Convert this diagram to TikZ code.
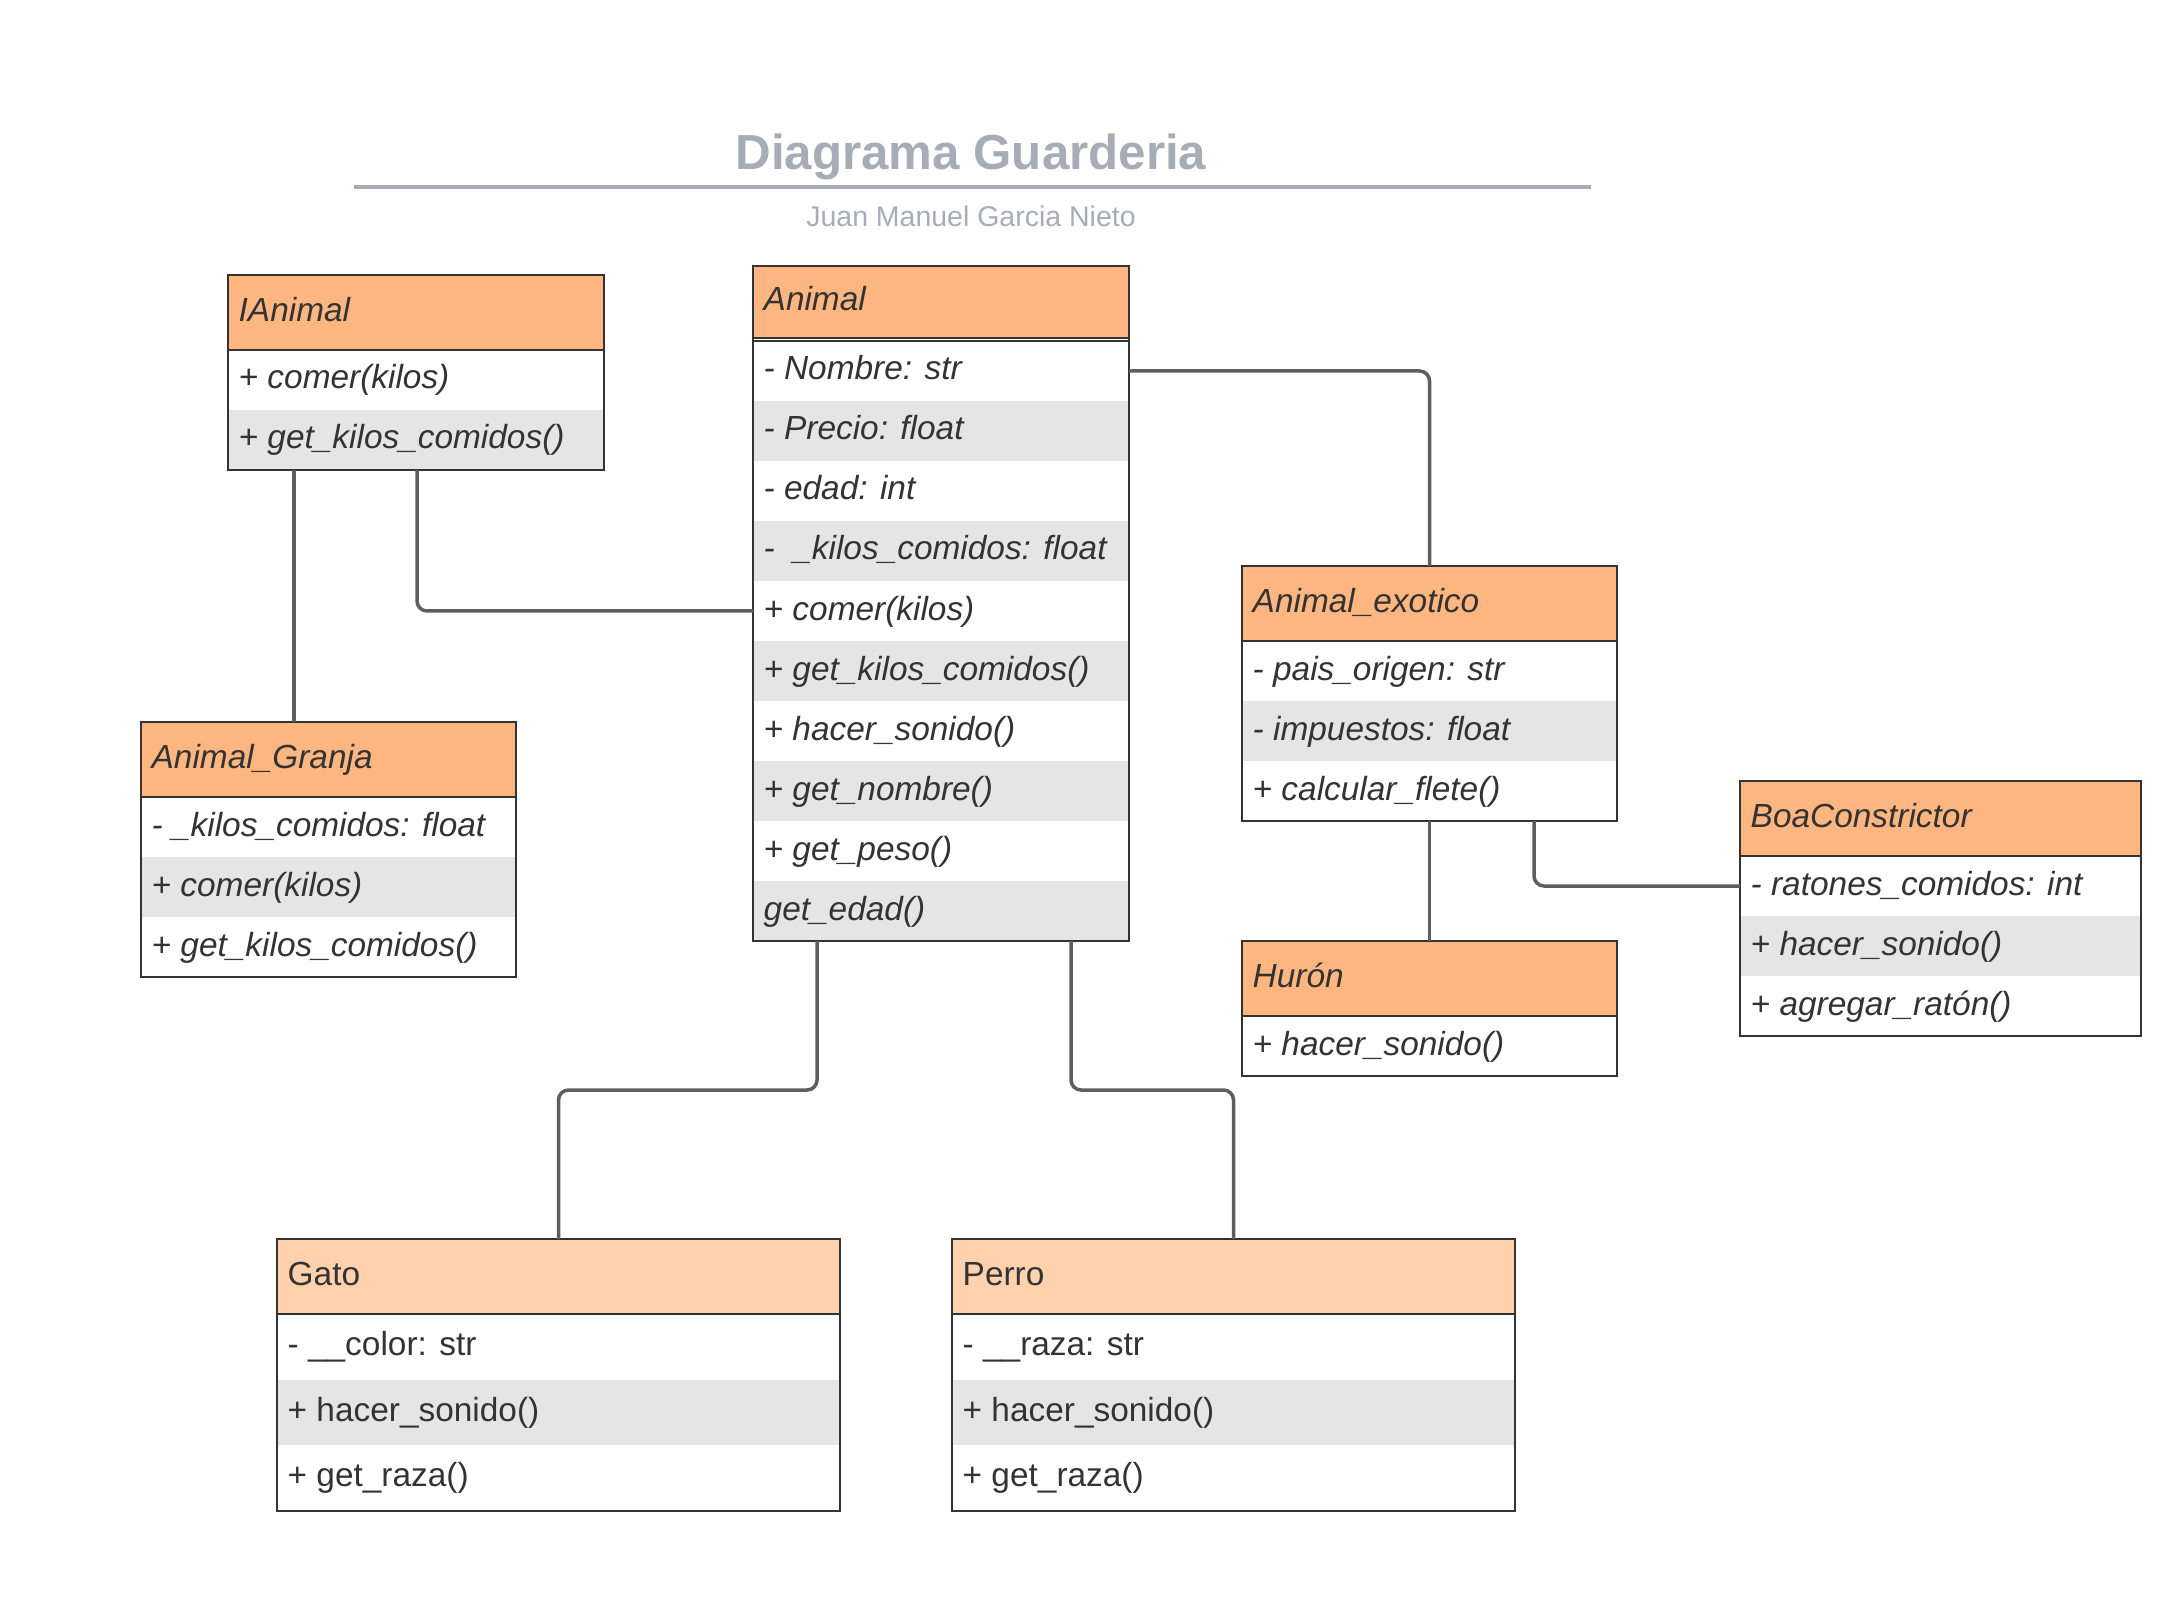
\documentclass[tikz,border=0pt]{standalone}
\usepackage{fontspec}
\setmainfont{Liberation Sans}
\usetikzlibrary{calc}
\definecolor{hdr}{HTML}{FFB680}
\definecolor{hdrlight}{HTML}{FFD1AD}
\definecolor{rowgray}{HTML}{E5E5E5}
\definecolor{edgec}{HTML}{333333}
\definecolor{connc}{HTML}{5E5E5E}
\definecolor{txtc}{HTML}{333333}
\definecolor{ttlc}{HTML}{A7ADB7}
\tikzset{
  rowbox/.style={draw=none, inner sep=0pt, outer sep=0pt, anchor=north west},
  hdrbox/.style={draw=edgec, line width=0.02cm, inner sep=0pt, outer sep=0pt, anchor=north west},
  framebox/.style={draw=edgec, line width=0.02cm, inner sep=0pt, outer sep=0pt, anchor=north west},
  lblit/.style={anchor=base west, inner sep=0pt, text=txtc, font=\fontsize{9.5}{11}\selectfont\itshape},
  lblup/.style={anchor=base west, inner sep=0pt, text=txtc, font=\fontsize{9.5}{11}\selectfont},
  link/.style={draw=connc, line width=0.035cm, rounded corners=0.1cm},
}
% #1 name, #2 x, #3 y, #4 w, #5 h, #6 fill, #7 label style, #8 text
\newcommand{\umlrow}[8]{%
  \node[rowbox, fill=#6, minimum width=#4*0.01cm, minimum height=#5*0.01cm] (#1) at (#2,#3) {};
  \node[#7] (#1-t) at ($(#1.west)+(10,9)$) {#8};
}
\newcommand{\umlhead}[8]{%
  \node[hdrbox, fill=#6, minimum width=#4*0.01cm, minimum height=#5*0.01cm] (#1) at (#2,#3) {};
  \node[#7] (#1-t) at ($(#1.west)+(10,9)$) {#8};
}
\newcommand{\umlframe}[5]{%
  \node[framebox, minimum width=#4*0.01cm, minimum height=#5*0.01cm] (#1) at (#2,#3) {};
}
\begin{document}
\begin{tikzpicture}[x=0.01cm, y=-0.01cm]
\useasboundingbox (0,0) rectangle (2183,1598);
\fill[white] (0,0) rectangle (2183,1598);

% Title
\node[anchor=base, inner sep=0pt, text=ttlc, font=\fontsize{14}{16}\selectfont\bfseries] (title) at (971,170) {Diagrama Guarderia};
\coordinate (rulel) at (354,187);
\coordinate (ruler) at (1591,187);
\draw[ttlc, line width=0.035cm] (rulel) -- (ruler);
\node[anchor=base, inner sep=0pt, text=ttlc, font=\fontsize{8.1}{10}\selectfont] (subtitle) at (971,227) {Juan Manuel Garcia Nieto};

% IAnimal
\umlrow{ianimal-r1}{228}{350}{376}{60}{white}{lblit}{+ comer(kilos)}
\umlrow{ianimal-r2}{228}{410}{376}{60}{rowgray}{lblit}{+ get\_kilos\_comidos()}
\umlhead{ianimal-h}{228}{275}{376}{75}{hdr}{lblit}{IAnimal}
\umlframe{ianimal}{228}{275}{376}{195}

% Animal
\umlrow{animal-r1}{753}{341}{376}{60}{white}{lblit}{- Nombre: str}
\umlrow{animal-r2}{753}{401}{376}{60}{rowgray}{lblit}{- Precio: float}
\umlrow{animal-r3}{753}{461}{376}{60}{white}{lblit}{- edad: int}
\umlrow{animal-r4}{753}{521}{376}{60}{rowgray}{lblit}{-\ \ \_kilos\_comidos: float}
\umlrow{animal-r5}{753}{581}{376}{60}{white}{lblit}{+ comer(kilos)}
\umlrow{animal-r6}{753}{641}{376}{60}{rowgray}{lblit}{+ get\_kilos\_comidos()}
\umlrow{animal-r7}{753}{701}{376}{60}{white}{lblit}{+ hacer\_sonido()}
\umlrow{animal-r8}{753}{761}{376}{60}{rowgray}{lblit}{+ get\_nombre()}
\umlrow{animal-r9}{753}{821}{376}{60}{white}{lblit}{+ get\_peso()}
\umlrow{animal-r10}{753}{881}{376}{60}{rowgray}{lblit}{get\_edad()}
\umlhead{animal-h}{753}{266}{376}{72}{hdr}{lblit}{Animal}
\draw[edgec, line width=0.02cm] (animal-r1.north west) -- (animal-r1.north east);
\umlframe{animal}{753}{266}{376}{675}

% Animal_Granja
\umlrow{granja-r1}{141}{797}{375}{60}{white}{lblit}{- \_kilos\_comidos: float}
\umlrow{granja-r2}{141}{857}{375}{60}{rowgray}{lblit}{+ comer(kilos)}
\umlrow{granja-r3}{141}{917}{375}{60}{white}{lblit}{+ get\_kilos\_comidos()}
\umlhead{granja-h}{141}{722}{375}{75}{hdr}{lblit}{Animal\_Granja}
\umlframe{granja}{141}{722}{375}{255}

% Animal_exotico
\umlrow{exotico-r1}{1242}{641}{375}{60}{white}{lblit}{- pais\_origen: str}
\umlrow{exotico-r2}{1242}{701}{375}{60}{rowgray}{lblit}{- impuestos: float}
\umlrow{exotico-r3}{1242}{761}{375}{60}{white}{lblit}{+ calcular\_flete()}
\umlhead{exotico-h}{1242}{566}{375}{75}{hdr}{lblit}{Animal\_exotico}
\umlframe{exotico}{1242}{566}{375}{255}

% Huron
\umlrow{huron-r1}{1242}{1016}{375}{60}{white}{lblit}{+ hacer\_sonido()}
\umlhead{huron-h}{1242}{941}{375}{75}{hdr}{lblit}{Hurón}
\umlframe{huron}{1242}{941}{375}{135}

% BoaConstrictor
\umlrow{boa-r1}{1740}{856}{401}{60}{white}{lblit}{- ratones\_comidos: int}
\umlrow{boa-r2}{1740}{916}{401}{60}{rowgray}{lblit}{+ hacer\_sonido()}
\umlrow{boa-r3}{1740}{976}{401}{60}{white}{lblit}{+ agregar\_ratón()}
\umlhead{boa-h}{1740}{781}{401}{75}{hdr}{lblit}{BoaConstrictor}
\umlframe{boa}{1740}{781}{401}{255}

% Gato
\umlrow{gato-r1}{277}{1314}{563}{65.5}{white}{lblup}{- \_\_color: str}
\umlrow{gato-r2}{277}{1379.5}{563}{65.5}{rowgray}{lblup}{+ hacer\_sonido()}
\umlrow{gato-r3}{277}{1445}{563}{65.5}{white}{lblup}{+ get\_raza()}
\umlhead{gato-h}{277}{1239}{563}{75}{hdrlight}{lblup}{Gato}
\umlframe{gato}{277}{1239}{563}{271.5}

% Perro
\umlrow{perro-r1}{952}{1314}{563}{65.5}{white}{lblup}{- \_\_raza: str}
\umlrow{perro-r2}{952}{1379.5}{563}{65.5}{rowgray}{lblup}{+ hacer\_sonido()}
\umlrow{perro-r3}{952}{1445}{563}{65.5}{white}{lblup}{+ get\_raza()}
\umlhead{perro-h}{952}{1239}{563}{75}{hdrlight}{lblup}{Perro}
\umlframe{perro}{952}{1239}{563}{271.5}

% Connectors
\coordinate (c1) at ($(ianimal.south west)+(66,0)$);
\draw[link] (c1) -- (c1 |- granja.north);
\coordinate (c2) at ($(ianimal.south west)+(189,0)$);
\draw[link] (c2) |- (animal-r5.west);
\draw[link] (animal-r1.east) -| (exotico.north);
\draw[link] (exotico.south) -- (huron.north);
\coordinate (c5) at ($(exotico.south west)+(292,0)$);
\draw[link] (c5) |- (boa-r1.west);
\coordinate (c6) at ($(animal.south west)+(64,0)$);
\coordinate (m6) at ($(c6)+(0,149)$);
\draw[link] (c6) -- (m6) -| (gato.north);
\coordinate (c7) at ($(animal.south west)+(318,0)$);
\coordinate (m7) at ($(c7)+(0,149)$);
\draw[link] (c7) -- (m7) -| (perro.north);
\end{tikzpicture}
\end{document}
